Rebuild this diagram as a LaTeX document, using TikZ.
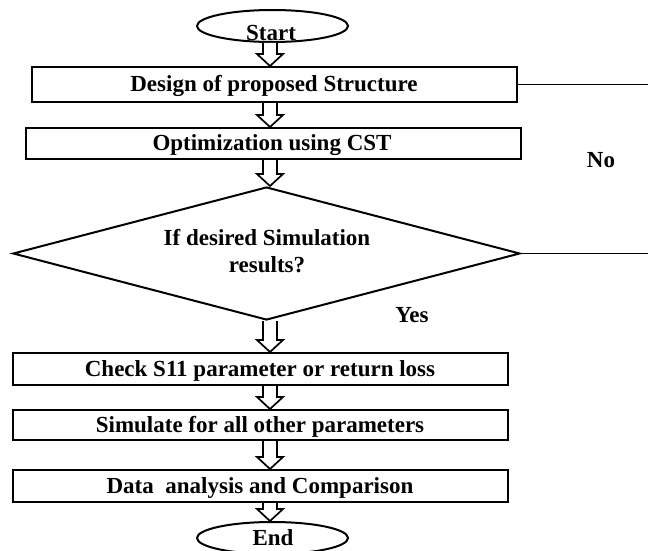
\documentclass[tikz,border=0pt]{standalone}
\usepackage{fontspec}
\setmainfont{Liberation Serif}
\usetikzlibrary{shapes.geometric,calc}
\tikzset{
  lw/.style={line width=2pt},
  boxnode/.style={draw,lw,rectangle,inner sep=0pt,fill=white},
  termnode/.style={draw,lw,ellipse,inner sep=0pt,minimum width=151pt,minimum height=32pt},
  decnode/.style={draw,lw,diamond,inner sep=0pt,minimum width=507pt,minimum height=133pt,aspect=3.8,align=center},
  txt/.style={font=\fontsize{23}{27}\selectfont\bfseries,inner sep=0pt},
  barrowstyle/.style={draw,line width=1.7pt,fill=white,line join=miter},
  conn/.style={line width=1.8pt}
}
\newcommand{\myblockarrow}[2]{%
  \path (#1) coordinate (ba1) (#2) coordinate (ba2);
  \draw[barrowstyle] let \p1=(ba1), \p2=(ba2) in
    (\x1-7pt,\y1) -- (\x1-7pt,\y2+12pt) -- (\x1-13pt,\y2+12pt) -- (\x1,\y2)
    -- (\x1+13pt,\y2+12pt) -- (\x1+7pt,\y2+12pt) -- (\x1+7pt,\y1);
}
\begin{document}
\begin{tikzpicture}[x=1pt,y=-1pt]
\useasboundingbox (0,0) rectangle (648,551);
\coordinate (ax) at (270,0);
\coordinate (rx) at (648,0);

\node[termnode] (start) at (272.5,26) {};
\node[boxnode,minimum width=485pt,minimum height=35pt] (b1) at (274.5,84.5) {};
\node[boxnode,minimum width=495pt,minimum height=31pt] (b2) at (273.5,143.5) {};
\node[decnode] (d) at (266.5,253.5) {};
\node[boxnode,minimum width=495pt,minimum height=32pt] (b3) at (260.5,369) {};
\node[boxnode,minimum width=495pt,minimum height=30pt] (b4) at (260.5,425) {};
\node[boxnode,minimum width=495pt,minimum height=32pt] (b5) at (260.5,486) {};
\node[termnode] (end) at (272.5,538) {};

\myblockarrow{ax |- start.south}{ax |- b1.north}
\myblockarrow{ax |- b1.south}{ax |- b2.north}
\myblockarrow{ax |- b2.south}{ax |- d.north}
\myblockarrow{ax |- d.south}{ax |- b3.north}
\myblockarrow{ax |- b3.south}{ax |- b4.north}
\myblockarrow{ax |- b4.south}{ax |- b5.north}
\myblockarrow{ax |- b5.south}{ax |- end.north}

\node[txt] (starttxt) at (271,33) {Start};
\node[txt] (b1t) at (274,86) {Design of proposed Structure};
\node[txt] (b2t) at (272,145) {Optimization using CST};
\node[txt,align=center] (dt) at (267,251) {If desired Simulation\\results?};
\node[txt] (b3t) at (260,371) {Check S11 parameter or return loss};
\node[txt] (b4t) at (260,427) {Simulate for all other parameters};
\node[txt] (b5t) at (260,488) {Data\ \ analysis and Comparison};
\node[txt] (endtxt) at (273,538) {End};
\node[txt] (no) at (601,160) {No};
\node[txt] (yes) at (412,315) {Yes};

\draw[conn] (b1.east) -- (b1.east -| rx);
\draw[conn] (d.east) -- (d.east -| rx);
\end{tikzpicture}
\end{document}
